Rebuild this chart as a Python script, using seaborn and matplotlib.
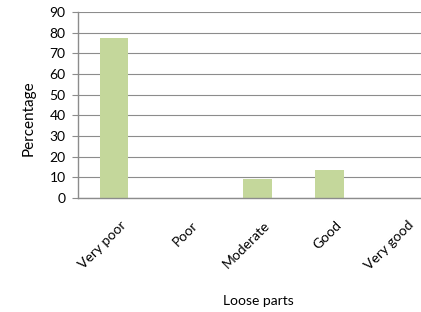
import matplotlib
matplotlib.use("Agg")
import matplotlib.pyplot as plt
import matplotlib.transforms as mtransforms
import seaborn as sns
import pandas as pd

categories = ["Very poor", "Poor", "Moderate", "Good", "Very good"]
values = [77.3, 0, 9.2, 13.7, 0]
yticks = [0, 10, 20, 30, 40, 50, 60, 70, 80, 90]

sns.set_theme(style="white")
plt.rcParams['font.family'] = ['Lato', 'DejaVu Sans']

df = pd.DataFrame({"cat": categories, "val": values})

fig = plt.figure(figsize=(4.21, 3.12), dpi=100)
ax = fig.add_axes([78/421, 1-198/312, (437-78)/421, (198-12)/312])
sns.barplot(data=df, x="cat", y="val", color="#C4D79B", width=0.4, ax=ax,
            saturation=1, edgecolor="none")
ax.set_xlim(-0.5, 4.5)
ax.set_ylim(0, 90)
ax.set_yticks(yticks)
ax.set_yticklabels([str(t) for t in yticks], fontsize=10)
ax.yaxis.grid(True, color="#8C8C8C", linewidth=0.8)
ax.set_axisbelow(True)
for s in ["top", "right"]:
    ax.spines[s].set_visible(False)
for s in ["left", "bottom"]:
    ax.spines[s].set_color("#8C8C8C")
    ax.spines[s].set_linewidth(1.0)
ax.tick_params(axis="y", left=True, length=4, width=0.8, color="#8C8C8C", pad=5, labelcolor="black")
ax.tick_params(axis="x", bottom=False, pad=9, labelcolor="black")
ax.set_xticks(range(len(categories)))
ax.set_xticklabels(categories, rotation=45, ha="right", rotation_mode="anchor", fontsize=10)
offset = mtransforms.ScaledTranslation(6/100, 0, fig.dpi_scale_trans)
for lab in ax.get_xticklabels():
    lab.set_transform(lab.get_transform() + offset)
ax.set_ylabel("Percentage", fontsize=11, color="black")
ax.yaxis.set_label_coords(-0.118, 0.427)
ax.set_xlabel("Loose parts", fontsize=10, color="black")
ax.xaxis.set_label_coords((258-78)/359, -(295-198)/186)
fig.savefig("out.png", dpi=100)
